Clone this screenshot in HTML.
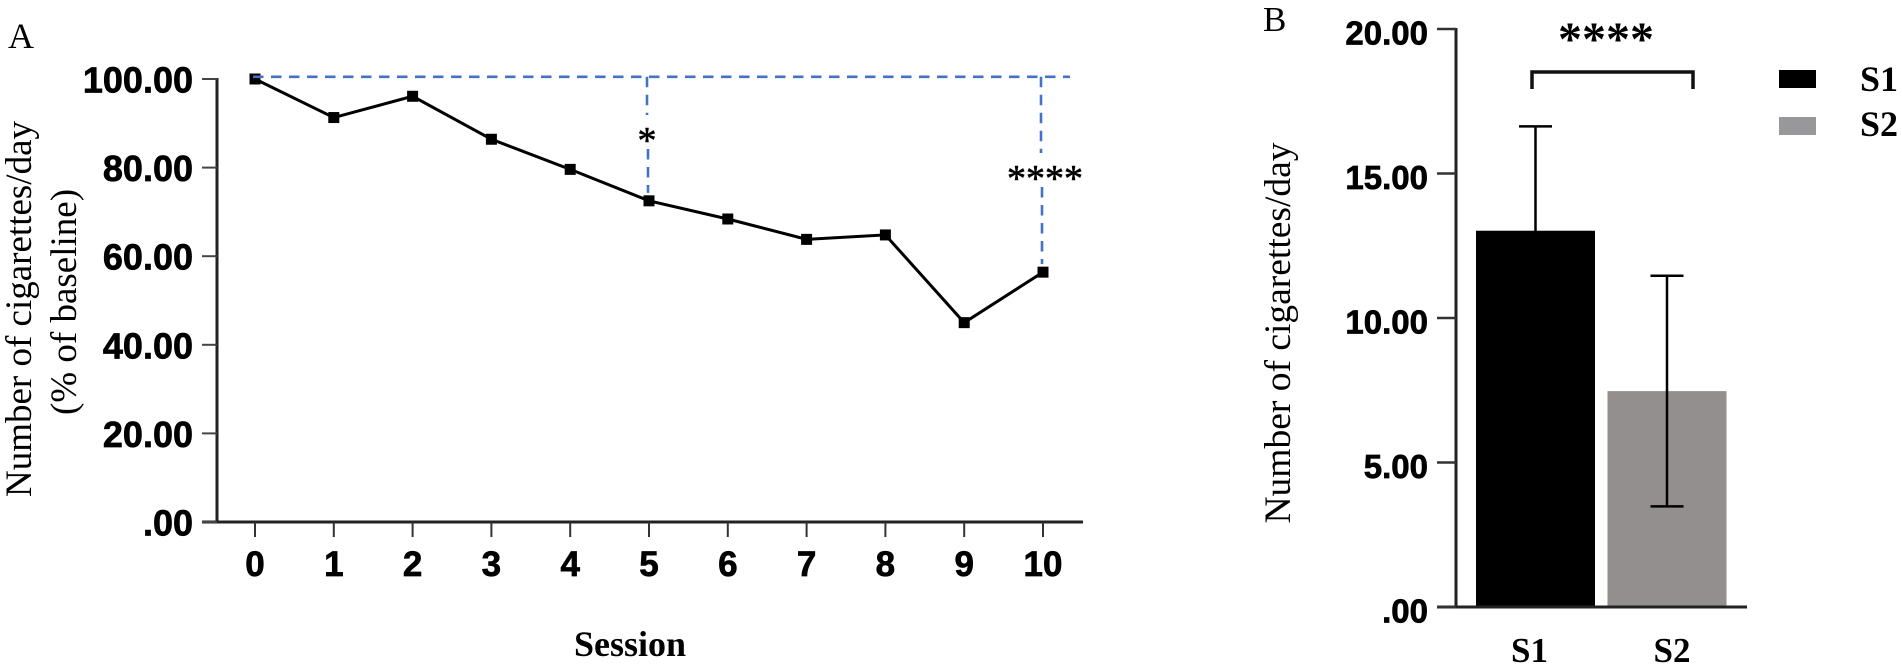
<!DOCTYPE html>
<html lang="en">
<head>
<meta charset="utf-8">
<title>Number of cigarettes per day by session</title>
<style>
html,body{margin:0;padding:0;background:#fff;width:1902px;height:670px;overflow:hidden}
svg{display:block;position:absolute;left:0;top:0}
.serif{font-family:"Liberation Serif",serif;fill:#000}
.sans{font-family:"Liberation Sans",sans-serif;fill:#000;font-weight:700;stroke:#000;stroke-width:0.7px}
.star{stroke:#000;stroke-width:0.6px}
</style>
</head>
<body>
<svg id="figure" width="1902" height="670" viewBox="0 0 1902 670" xmlns="http://www.w3.org/2000/svg">
  <text class="serif" x="8" y="48" font-size="36">A</text>
  <text class="serif" x="1263" y="31" font-size="35">B</text>
  <text class="serif" transform="translate(31,309) rotate(-90)" text-anchor="middle" font-size="37">Number of cigarettes/day</text>
  <text class="serif" transform="translate(76,302) rotate(-90)" text-anchor="middle" font-size="37">(% of baseline)</text>
  <text class="serif" x="630" y="656" text-anchor="middle" font-size="36" font-weight="700">Session</text>
  <text class="serif" transform="translate(1290,333) rotate(-90)" text-anchor="middle" font-size="37.5">Number of cigarettes/day</text>
  <g id="panelA"></g>
  <g id="panelB"></g>
</svg>
<script>
const sessions = [0, 1, 2, 3, 4, 5, 6, 7, 8, 9, 10];
const cigarettePercent = [100, 91.3, 96.1, 86.4, 79.6, 72.5, 68.4, 63.8, 64.8, 45, 56.4];
const lineYTicks = [0, 20, 40, 60, 80, 100];
const lineYTickLabels = ['.00', '20.00', '40.00', '60.00', '80.00', '100.00'];
const baselinePercent = 100.5;
const significantSessions = [5, 10];
const significantLabels = ['*', '****'];

const groups = ['S1', 'S2'];
const groupMeans = [13.02, 7.47];
const groupErrors = [3.61, 3.99];
const barYTicks = [0, 5, 10, 15, 20];
const barYTickLabels = ['.00', '5.00', '10.00', '15.00', '20.00'];
const groupColors = ['#000000', '#928f8e'];
const legendColors = ['#000000', '#98979a'];
const barSignificance = '****';

const NS = 'http://www.w3.org/2000/svg';
function make(parent, tag, attrs, text) {
  const el = document.createElementNS(NS, tag);
  for (const k in attrs) el.setAttribute(k, attrs[k]);
  if (text !== undefined) el.textContent = text;
  parent.appendChild(el);
  return el;
}

/* Panel A */
const panelA = document.getElementById('panelA');
const xA = s => 255 + s * 78.8;
const yA = v => 522 - v * 4.43;

let el = make(panelA, 'line', {x1: 217, y1: yA(100) - 1, x2: 217, y2: 523.5, stroke: '#222', 'stroke-width': 3});


el = make(panelA, 'line', {x1: 202, y1: 522, x2: 1083, y2: 522, stroke: '#222', 'stroke-width': 3});



lineYTicks.forEach((t, i) => {
  let tick = make(panelA, 'line', {x1: 202, y1: yA(t), x2: 217, y2: yA(t), stroke: '#444', 'stroke-width': 2});
  
  
  let label = make(panelA, 'text', {class: 'sans', x: 193, y: yA(t) + 13.5, 'text-anchor': 'end', 'font-size': 36}, lineYTickLabels[i]);
  
  
});

sessions.forEach(s => {
  let tick = make(panelA, 'line', {x1: xA(s), y1: 522, x2: xA(s), y2: 537, stroke: '#333', 'stroke-width': 2});
  
  
  let label = make(panelA, 'text', {class: 'sans', x: xA(s), y: 576, 'text-anchor': 'middle', 'font-size': 35}, String(s));
  
  
});

sessions.forEach((s, i) => {
  let pt = make(panelA, 'rect', {x: xA(s) - 5.5, y: yA(cigarettePercent[i]) - 5.5, width: 11, height: 11, fill: '#000'});
  
  
});

el = make(panelA, 'polyline', {points: sessions.map((s, i) => xA(s) + ',' + yA(cigarettePercent[i])).join(' '), fill: 'none', stroke: '#000', 'stroke-width': 3});



const dashStyle = {stroke: '#4472c4', 'stroke-width': 2.6, 'stroke-dasharray': '10.5 7.5', fill: 'none'};
el = make(panelA, 'line', Object.assign({x1: xA(0) - 2, y1: yA(baselinePercent), x2: 1070, y2: yA(baselinePercent)}, dashStyle));



significantSessions.forEach((s, i) => {
  const x = xA(s) - 2;
  const top = yA(baselinePercent);
  const bottom = yA(cigarettePercent[sessions.indexOf(s)]) - 8;
  const starY = i === 0 ? 135 : 173;
  let upper = make(panelA, 'line', Object.assign({x1: x, y1: top, x2: x, y2: starY - 20}, dashStyle));
  
  
  let lower = make(panelA, 'line', Object.assign({x1: x + 1, y1: starY + 14, x2: x + 1, y2: bottom}, dashStyle));
  
  
  let star = make(panelA, 'text', {class: 'serif star', x: xA(s) + (i === 0 ? -2 : 2), y: starY + 18, 'text-anchor': 'middle', 'font-size': 38}, significantLabels[i]);
  
  
});

/* Panel B */
const panelB = document.getElementById('panelB');
const xB = i => 1535.5 + i * 131.5;
const yB = v => 607 - v * 28.9;
const barWidth = 119;

groups.forEach((g, i) => {
  let bar = make(panelB, 'rect', {x: xB(i) - barWidth / 2, y: yB(groupMeans[i]), width: barWidth, height: yB(0) - yB(groupMeans[i]), fill: groupColors[i]});
  
  
  const hi = yB(groupMeans[i] + groupErrors[i]);
  const lo = yB(groupMeans[i] - groupErrors[i]);
  let stem = make(panelB, 'line', {x1: xB(i), y1: hi, x2: xB(i), y2: lo, stroke: '#000', 'stroke-width': 2.5});
  
  
  let capHi = make(panelB, 'line', {x1: xB(i) - 16.5, y1: hi, x2: xB(i) + 16.5, y2: hi, stroke: '#000', 'stroke-width': 2.5});
  
  
  let capLo = make(panelB, 'line', {x1: xB(i) - 16.5, y1: lo, x2: xB(i) + 16.5, y2: lo, stroke: '#000', 'stroke-width': 2.5});
  
  
  let label = make(panelB, 'text', {class: 'serif', x: xB(i) + (i === 0 ? -6 : 5), y: 662, 'text-anchor': 'middle', 'font-size': 35, 'font-weight': 700}, g);
  
  
  const ly = 70 + i * 47;
  let swatch = make(panelB, 'rect', {x: 1779, y: ly, width: 37, height: 18, fill: legendColors[i]});
  
  
  let entry = make(panelB, 'text', {class: 'serif', x: 1860, y: 91 + i * 45, 'font-size': 36, 'font-weight': 700}, g);
  
  
});

el = make(panelB, 'line', {x1: 1456, y1: yB(20) - 1, x2: 1456, y2: 608, stroke: '#222', 'stroke-width': 3});


el = make(panelB, 'line', {x1: 1437, y1: 607, x2: 1747, y2: 607, stroke: '#222', 'stroke-width': 3});



barYTicks.forEach((t, i) => {
  let tick = make(panelB, 'line', {x1: 1437, y1: yB(t), x2: 1456, y2: yB(t), stroke: '#333', 'stroke-width': 2.5});
  
  
  let label = make(panelB, 'text', {class: 'sans', x: 1428, y: yB(t) + 15.5, 'text-anchor': 'end', 'font-size': 33}, barYTickLabels[i]);
  
  
});

el = make(panelB, 'path', {d: 'M1532 89 V72 H1693 V89', fill: 'none', stroke: '#111', 'stroke-width': 3.5});


el = make(panelB, 'text', {class: 'serif', x: 1606, y: 55, 'text-anchor': 'middle', 'font-size': 48, 'font-weight': 700}, barSignificance);


</script>
</body>
</html>
